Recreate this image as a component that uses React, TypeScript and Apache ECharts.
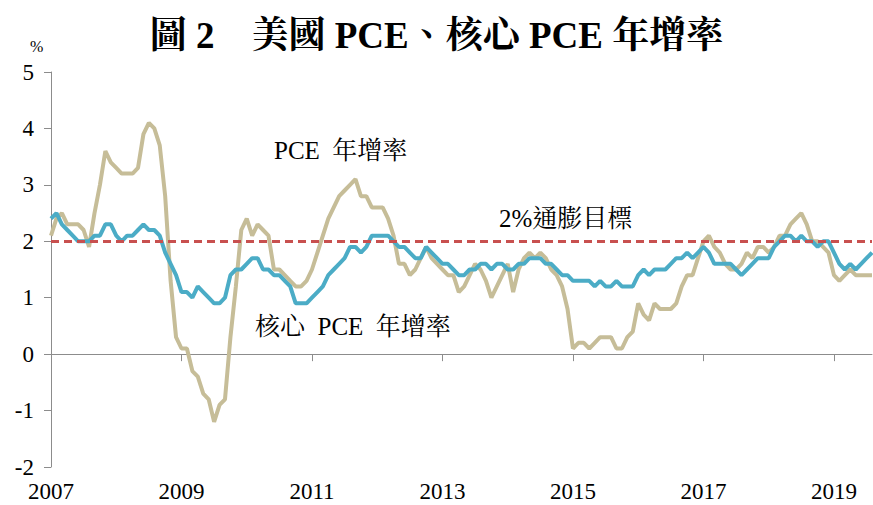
import React, { useEffect, useRef } from "react";
import * as echarts from "echarts";

const startYear = 2007;
const monthCount = 152; // 2007-01 .. 2019-08
const months: string[] = [];
for (let i = 0; i < monthCount; i++) {
  const y = startYear + Math.floor(i / 12);
  const m = (i % 12) + 1;
  months.push(`${y}-${m < 10 ? "0" + m : m}`);
}

const pceYoY = [
  2.1, 2.4, 2.5, 2.3, 2.3, 2.3, 2.2, 1.9, 2.5, 3.0, 3.6, 3.4,
  3.3, 3.2, 3.2, 3.2, 3.3, 3.9, 4.1, 4.0, 3.7, 2.8, 1.3, 0.3,
  0.1, 0.1, -0.3, -0.4, -0.7, -0.8, -1.2, -0.9, -0.8, 0.3, 1.2, 2.2,
  2.4, 2.1, 2.3, 2.2, 2.1, 1.5, 1.5, 1.4, 1.3, 1.2, 1.2, 1.3,
  1.5, 1.8, 2.1, 2.4, 2.6, 2.8, 2.9, 3.0, 3.1, 2.8, 2.8, 2.6,
  2.6, 2.6, 2.4, 2.1, 1.6, 1.6, 1.4, 1.5, 1.7, 1.9, 1.7, 1.6,
  1.5, 1.4, 1.4, 1.1, 1.2, 1.4, 1.6, 1.5, 1.3, 1.0, 1.2, 1.4,
  1.6, 1.1, 1.5, 1.7, 1.8, 1.7, 1.8, 1.7, 1.5, 1.4, 1.2, 0.8,
  0.1, 0.2, 0.2, 0.1, 0.2, 0.3, 0.3, 0.3, 0.1, 0.1, 0.3, 0.4,
  0.9, 0.7, 0.6, 0.9, 0.8, 0.8, 0.8, 0.9, 1.2, 1.4, 1.4, 1.7,
  2.0, 2.1, 1.9, 1.8, 1.6, 1.5, 1.5, 1.6, 1.8, 1.7, 1.9, 1.9,
  1.8, 1.9, 2.1, 2.1, 2.3, 2.4, 2.5, 2.3, 2.0, 2.0, 1.9, 1.8,
  1.4, 1.3, 1.4, 1.5, 1.4, 1.4, 1.4, 1.4,
];

const corePceYoY = [
  2.4, 2.5, 2.3, 2.2, 2.1, 2.0, 2.0, 2.0, 2.1, 2.1, 2.3, 2.3,
  2.1, 2.0, 2.1, 2.1, 2.2, 2.3, 2.2, 2.2, 2.1, 1.8, 1.6, 1.4,
  1.1, 1.1, 1.0, 1.2, 1.1, 1.0, 0.9, 0.9, 1.0, 1.4, 1.5, 1.5,
  1.6, 1.7, 1.7, 1.5, 1.5, 1.4, 1.4, 1.3, 1.2, 0.9, 0.9, 0.9,
  1.0, 1.1, 1.2, 1.4, 1.5, 1.6, 1.7, 1.9, 1.9, 1.8, 1.9, 2.1,
  2.1, 2.1, 2.1, 2.0, 1.9, 1.9, 1.8, 1.7, 1.7, 1.9, 1.8, 1.7,
  1.6, 1.6, 1.5, 1.4, 1.4, 1.5, 1.5, 1.6, 1.6, 1.5, 1.6, 1.6,
  1.5, 1.5, 1.6, 1.6, 1.7, 1.7, 1.7, 1.6, 1.6, 1.5, 1.4, 1.4,
  1.3, 1.3, 1.3, 1.3, 1.2, 1.3, 1.2, 1.2, 1.3, 1.2, 1.2, 1.2,
  1.4, 1.5, 1.4, 1.5, 1.5, 1.5, 1.6, 1.7, 1.7, 1.8, 1.7, 1.8,
  1.9, 1.8, 1.6, 1.6, 1.6, 1.6, 1.5, 1.4, 1.5, 1.6, 1.7, 1.7,
  1.7, 1.9, 2.0, 2.1, 2.1, 2.0, 2.1, 2.0, 2.0, 1.9, 2.0, 2.0,
  1.8, 1.6, 1.5, 1.6, 1.5, 1.6, 1.7, 1.8,
];

const inflationTarget = 2;
const yTicks = { min: -2, max: 5, interval: 1 };

const SERIF = "'Times New Roman', 'Liberation Serif', 'Noto Serif CJK TC', 'Noto Sans CJK TC', serif";

export default function App() {
  const ref = useRef<HTMLDivElement>(null);
  useEffect(() => {
    if (!ref.current) return;
    const chart = echarts.init(ref.current, undefined, { renderer: "svg" });
    chart.setOption({
      animation: false,
      backgroundColor: "#ffffff",
      title: {
        text: "圖 2\u3000美國 PCE、核心 PCE 年增率",
        left: "center",
        top: 12,
        textStyle: { fontFamily: SERIF, fontSize: 37, fontWeight: "bold", color: "#000" },
      },
      grid: { left: 51, right: 1, top: 72, bottom: 38, containLabel: false },
      xAxis: [
        {
          type: "category",
          data: months,
          boundaryGap: false,
          axisLine: { onZero: true, lineStyle: { color: "#8c8c8c", width: 1 } },
          axisTick: { show: true, interval: 23, length: 7, lineStyle: { color: "#8c8c8c" } },
          axisLabel: { show: false },
          splitLine: { show: false },
        },
        {
          type: "category",
          data: months,
          boundaryGap: false,
          position: "bottom",
          axisLine: { show: false, onZero: false },
          axisTick: { show: false },
          axisLabel: {
            interval: 23,
            margin: 13,
            fontFamily: SERIF,
            fontSize: 23,
            color: "#000",
            formatter: (v: string) => v.slice(0, 4),
          },
          splitLine: { show: false },
        },
      ],
      yAxis: {
        type: "value",
        min: yTicks.min,
        max: yTicks.max,
        interval: yTicks.interval,
        axisLine: { show: true, lineStyle: { color: "#8c8c8c", width: 1 } },
        axisTick: { show: true, length: 7, lineStyle: { color: "#8c8c8c" } },
        axisLabel: { margin: 17, fontFamily: SERIF, fontSize: 23, color: "#000" },
        splitLine: { show: false },
      },
      graphic: [
        { type: "text", left: 30, top: 38, style: { text: "%", fontFamily: SERIF, fontSize: 16, fill: "#000" } },
        { type: "text", left: 274, top: 138, style: { text: "PCE\u2002年增率", fontFamily: SERIF, fontSize: 25, fill: "#000" } },
        { type: "text", left: 499, top: 206, style: { text: "2%通膨目標", fontFamily: SERIF, fontSize: 25, fill: "#000" } },
        { type: "text", left: 255, top: 314, style: { text: "核心\u2002PCE\u2002年增率", fontFamily: SERIF, fontSize: 25, fill: "#000" } },
      ],
      series: [
        {
          name: "PCE 年增率",
          type: "line",
          data: pceYoY,
          symbol: "none",
          lineStyle: { color: "#C6BD98", width: 4 },
          z: 2,
        },
        {
          name: "核心 PCE 年增率",
          type: "line",
          data: corePceYoY,
          symbol: "none",
          lineStyle: { color: "#4BACC6", width: 4 },
          z: 3,
          markLine: {
            silent: true,
            symbol: "none",
            label: { show: false },
            lineStyle: { color: "#C8504F", width: 3, type: [8, 5] },
            data: [{ yAxis: inflationTarget }],
            z: 5,
          },
        },
      ],
    });
    return () => chart.dispose();
  }, []);
  return <div ref={ref} style={{ position: "fixed", left: 0, top: 0, width: 873, height: 505 }} />;
}
